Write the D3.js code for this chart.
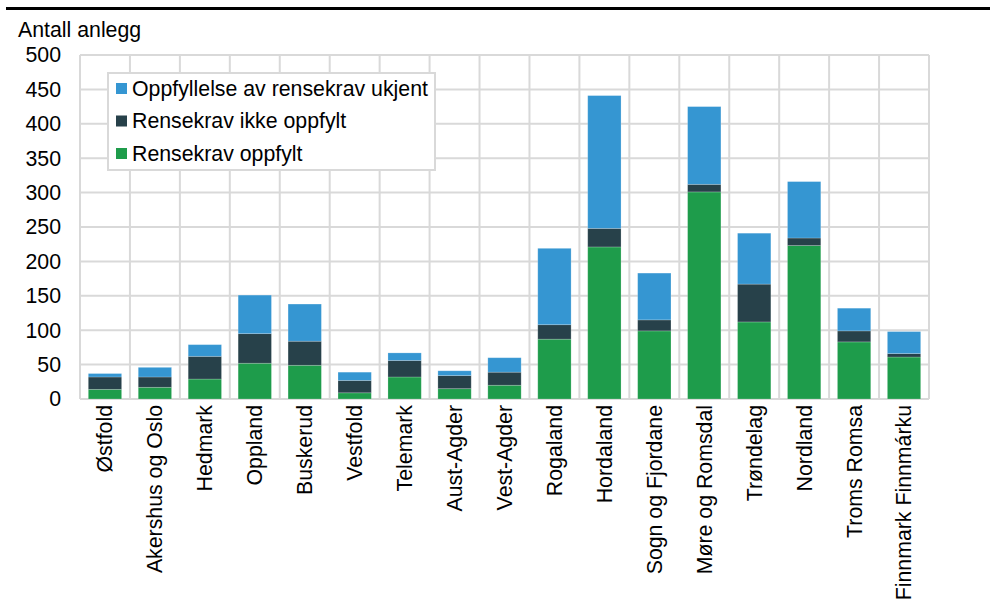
<!DOCTYPE html>
<html>
<head>
<meta charset="utf-8">
<script src="https://cdn.jsdelivr.net/npm/d3@7"></script>
<style>
  html, body { margin: 0; padding: 0; background: #fff; }
  svg { display: block; font-family: "Liberation Sans", Arial, sans-serif; }
</style>
</head>
<body>
<svg id="chart" width="995" height="601"></svg>
<script>
// Fylker
const categories = ["Østfold", "Akershus og Oslo", "Hedmark", "Oppland", "Buskerud", "Vestfold",
  "Telemark", "Aust-Agder", "Vest-Agder", "Rogaland", "Hordaland", "Sogn og Fjordane",
  "Møre og Romsdal", "Trøndelag", "Nordland", "Troms Romsa", "Finnmark Finnmárku"];

// Antall anlegg per fylke
const oppfylt      = [14, 17, 29, 52, 49,  9, 32, 15, 20,  87, 221,  99, 301, 112, 223, 83, 61];
const ikkeOppfylt  = [18, 15, 33, 43, 35, 18, 24, 19, 19,  21,  27,  16,  11,  55,  11, 16,  5];
const ukjent       = [ 5, 14, 17, 56, 54, 12, 11,  7, 21, 111, 193,  68, 113,  74,  82, 33, 32];

const seriesNames = ["Rensekrav oppfylt", "Rensekrav ikke oppfylt", "Oppfyllelse av rensekrav ukjent"];
const seriesColors = ["#1e9c4b", "#27414a", "#3596d2"];
const yTicks = [0, 50, 100, 150, 200, 250, 300, 350, 400, 450, 500];
const yLabel = "Antall anlegg";

const FS = 21.3;
const svg = d3.select("#chart");
const margin = { left: 80, top: 55, right: 995 - 929, bottom: 601 - 399 };
const W = 995, H = 601;
const innerW = W - margin.left - margin.right;
const innerH = H - margin.top - margin.bottom;

const rows = categories.map((c, i) => ({ cat: c, s0: oppfylt[i], s1: ikkeOppfylt[i], s2: ukjent[i] }));
const stack = d3.stack().keys(["s0", "s1", "s2"])(rows);

const x = d3.scaleBand().domain(categories).range([margin.left, margin.left + innerW]).paddingInner(0.333).paddingOuter(0.1665);
const y = d3.scaleLinear().domain([0, 500]).range([margin.top + innerH, margin.top]);

// top rule
svg.append("rect").attr("x", 6).attr("y", 7).attr("width", 984).attr("height", 3).attr("fill", "#000");

const grid = svg.append("g");
const gridColor = "#d9d9d9";
// horizontal gridlines
grid.selectAll("line.h").data(yTicks).join("line")
  .attr("x1", margin.left).attr("x2", margin.left + innerW)
  .attr("y1", d => y(d)).attr("y2", d => y(d))
  .attr("stroke", gridColor).attr("stroke-width", 2);
// vertical gridlines at category boundaries
const step = x.step();
const bounds = d3.range(categories.length + 1).map(i => margin.left + i * step);
grid.selectAll("line.v").data(bounds).join("line")
  .attr("x1", d => d).attr("x2", d => d)
  .attr("y1", y(500)).attr("y2", y(0))
  .attr("stroke", gridColor).attr("stroke-width", 2);

// bars
svg.append("g").selectAll("g").data(stack).join("g")
  .attr("fill", (d, i) => seriesColors[i])
  .selectAll("rect").data(d => d).join("rect")
  .attr("x", d => x(d.data.cat))
  .attr("width", x.bandwidth())
  .attr("y", d => y(d[1]))
  .attr("height", d => y(d[0]) - y(d[1]))
  .attr("stroke", "rgba(255,255,255,0.25)").attr("stroke-width", 0.8);

// y axis labels
const yAxis = d3.axisLeft(y).tickValues(yTicks).tickSize(0).tickPadding(0);
const gy = svg.append("g").attr("transform", `translate(${61},0)`).call(yAxis);
gy.select(".domain").remove();
gy.selectAll("text").attr("font-size", FS).attr("fill", "#000").attr("font-family", "Liberation Sans, Arial, sans-serif");

// x axis labels
const xAxis = d3.axisBottom(x).tickSize(0).tickPadding(0);
const gx = svg.append("g").attr("transform", `translate(0,${y(0)})`).call(xAxis);
gx.select(".domain").remove();
gx.selectAll("text")
  .attr("font-size", FS).attr("fill", "#000").attr("font-family", "Liberation Sans, Arial, sans-serif")
  .attr("transform", "rotate(-90)")
  .attr("text-anchor", "end")
  .attr("x", -6).attr("y", 0).attr("dy", "0.35em");

// y-axis title
svg.append("text").attr("x", 18).attr("y", 37).attr("font-size", FS).text(yLabel);

// legend
const lg = svg.append("g");
lg.append("rect").attr("x", 108).attr("y", 73).attr("width", 327).attr("height", 97)
  .attr("fill", "#fff").attr("stroke", gridColor).attr("stroke-width", 2);
const legendOrder = [2, 1, 0];
legendOrder.forEach((si, k) => {
  const cy = 88.5 + k * 32.5;
  lg.append("rect").attr("x", 116).attr("y", cy - 5.5).attr("width", 11).attr("height", 11).attr("fill", seriesColors[si]);
  lg.append("text").attr("x", 132).attr("y", cy).attr("dy", "0.35em").attr("font-size", FS).text(seriesNames[si]);
});
</script>
</body>
</html>
